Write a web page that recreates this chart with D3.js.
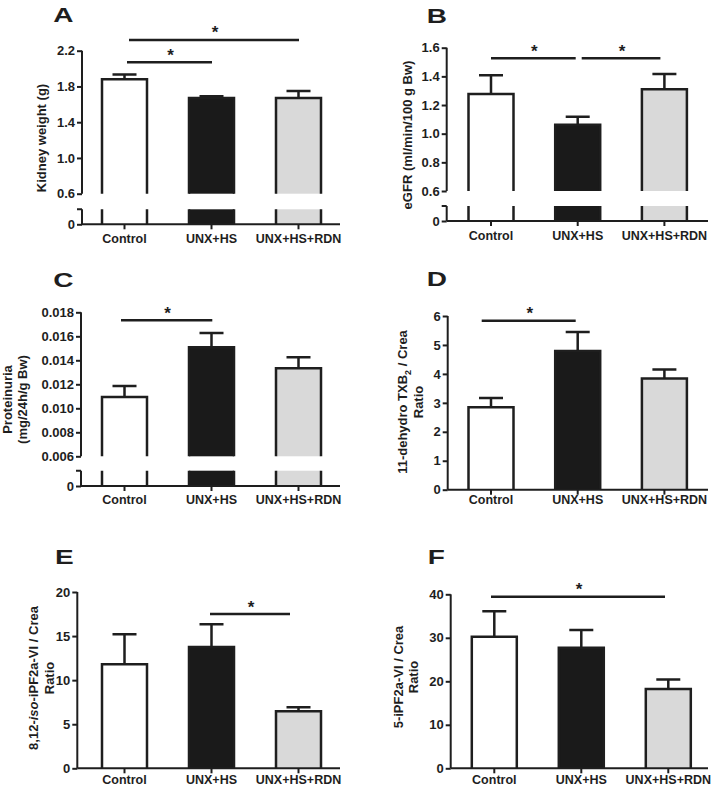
<!DOCTYPE html>
<html><head><meta charset="utf-8">
<script src="https://cdn.jsdelivr.net/npm/d3@7"></script>
<style>
body{margin:0;background:#fff}
text{font-family:"Liberation Sans",Arial,sans-serif;font-weight:bold;fill:#1e1e1e}
</style>
</head><body><svg id="c" width="711" height="787"></svg>
<script>
// ---------------- data ----------------
const categories = ["Control", "UNX+HS", "UNX+HS+RDN"];

const kidneyWeight = [1.88, 1.67, 1.67];
const kidneyWeightSem = [0.055, 0.02, 0.08];
const kidneyTicks = [0.6, 1.0, 1.4, 1.8, 2.2];
const kidneySig = [{from: 0, to: 1, y: 2.07}, {from: 0, to: 2, y: 2.32}];

const egfr = [1.277, 1.063, 1.31];
const egfrSem = [0.13, 0.056, 0.106];
const egfrTicks = [0.6, 0.8, 1.0, 1.2, 1.4, 1.6];
const egfrSig = [{from: 0, to: 1, y: 1.526}, {from: 1, to: 2, y: 1.526}];

const proteinuria = [0.01094, 0.01508, 0.01333];
const proteinuriaSem = [0.00092, 0.0012, 0.00092];
const proteinuriaTicks = [0.006, 0.008, 0.010, 0.012, 0.014, 0.016, 0.018];
const proteinuriaSig = [{from: 0, to: 1, y: 0.01733}];

const txb2 = [2.85, 4.79, 3.84];
const txb2Sem = [0.32, 0.66, 0.31];
const txb2Ticks = [0, 1, 2, 3, 4, 5, 6];
const txb2Sig = [{from: 0, to: 1, y: 5.84}];

const isoIPF = [11.8, 13.76, 6.47];
const isoIPFSem = [3.4, 2.57, 0.45];
const isoIPFTicks = [0, 5, 10, 15, 20];
const isoIPFSig = [{from: 1, to: 2, y: 17.5}];

const ipf5 = [30.27, 27.74, 18.24];
const ipf5Sem = [5.83, 4.06, 2.16];
const ipf5Ticks = [0, 10, 20, 30, 40];
const ipf5Sig = [{from: 0, to: 2, y: 39.45}];

// ---------------- layout / style ----------------
const fills = ["#ffffff", "#1a1a1a", "#d9d9d9"];
const ink = "#1e1e1e";

const panels = [
  {letter: "A", means: kidneyWeight, sem: kidneyWeightSem, ticks: kidneyTicks, fmt: d3.format(".1f"), sig: kidneySig,
   title: [["Kidney weight (g)"]], broken: true,
   L: {axisX: 82, xEnd: 340, c0: 124.5, step: 87, yLo: 193.7, yHi: 50.7, y0: 224.3, segTop: 209.3, labelDy: 19,
       lx: 53.3, ly: 21.7, tbx: 46, tcy: 138, gap: 15.5, sigDx: [[2.5, 0.5], [4.5, 0.5]]}},
  {letter: "B", means: egfr, sem: egfrSem, ticks: egfrTicks, fmt: d3.format(".1f"), sig: egfrSig,
   title: [["eGFR (ml/min/100 g Bw)"]], broken: true,
   L: {axisX: 446.7, xEnd: 708, c0: 491, step: 86.7, yLo: 191, yHi: 47.7, y0: 221, segTop: 206, labelDy: 19,
       lx: 426.7, ly: 22.7, tbx: 412, tcy: 135, gap: 15.5, sigDx: [[0, -2], [4, -4]]}},
  {letter: "C", means: proteinuria, sem: proteinuriaSem, ticks: proteinuriaTicks, fmt: d3.format(".3f"), sig: proteinuriaSig,
   title: [["Proteinuria"], ["(mg/24h/g Bw)"]], broken: true,
   L: {axisX: 81, xEnd: 340, c0: 124.5, step: 87, yLo: 456.3, yHi: 312.3, y0: 486, segTop: 470.7, labelDy: 18,
       lx: 53.3, ly: 286.7, tbx: 11.5, tcy: 399.5, gap: 15.5, sigDx: [[-3.5, 0.8]]}},
  {letter: "D", means: txb2, sem: txb2Sem, ticks: txb2Ticks, fmt: d3.format("d"), sig: txb2Sig,
   title: [["11-dehydro TXB", {sub: "2"}, " / Crea"], ["Ratio"]], broken: false,
   L: {axisX: 447.7, xEnd: 708, c0: 491, step: 86.7, yLo: 489.7, yHi: 316, y0: 489.7, labelDy: 15,
       lx: 426.7, ly: 285.7, tbx: 407, tcy: 402, gap: 15.5, sigDx: [[-9.3, -2]]}},
  {letter: "E", means: isoIPF, sem: isoIPFSem, ticks: isoIPFTicks, fmt: d3.format("d"), sig: isoIPFSig,
   title: [["8,12-", {it: "iso"}, "-iPF2a-VI / Crea"], ["Ratio"]], broken: false,
   L: {axisX: 77.3, xEnd: 340, c0: 124.5, step: 87, yLo: 768.3, yHi: 592, y0: 768.3, labelDy: 16,
       lx: 55, ly: 564, tbx: 38, tcy: 678, gap: 15.5, sigDx: [[-1.5, -8.5]]}},
  {letter: "F", means: ipf5, sem: ipf5Sem, ticks: ipf5Ticks, fmt: d3.format("d"), sig: ipf5Sig,
   title: [["5-iPF2a-VI / Crea"], ["Ratio"]], broken: false,
   L: {axisX: 450.7, xEnd: 708, c0: 494.3, step: 87, yLo: 768.3, yHi: 594.3, y0: 768.3, labelDy: 16,
       lx: 427.7, ly: 564, tbx: 402.5, tcy: 677, gap: 15.5, sigDx: [[-3.3, -3.3]]}}
];

const svg = d3.select("#c");
const barW = 45, capW = 24, tickLen = 5;
const styleText = sel => sel.attr("fill", ink)
  .style("font-family", '"Liberation Sans",Arial,sans-serif').style("font-weight", "bold");

panels.forEach(p => {
  const L = p.L;
  const g = svg.append("g");
  const x = d3.scaleBand().domain(categories)
    .range([L.c0 - L.step / 2, L.c0 + L.step * 2.5]).padding(0);
  const cx = c => x(c) + x.bandwidth() / 2;
  const y = d3.scaleLinear().domain([p.ticks[0], p.ticks[p.ticks.length - 1]]).range([L.yLo, L.yHi]);

  // bars
  categories.forEach((c, i) => {
    const left = cx(c) - barW / 2, right = cx(c) + barW / 2, top = y(p.means[i]);
    const bottom = L.yLo;
    g.append("rect").attr("x", left).attr("y", top).attr("width", barW).attr("height", bottom - top)
      .attr("fill", fills[i]);
    g.append("path").attr("d", `M${left},${bottom}V${top}H${right}V${bottom}`)
      .attr("fill", "none").attr("stroke", ink).attr("stroke-width", 2.5);
    if (p.broken) {
      g.append("rect").attr("x", left).attr("y", L.segTop).attr("width", barW).attr("height", L.y0 - L.segTop)
        .attr("fill", fills[i]);
      g.append("path").attr("d", `M${left},${L.segTop}V${L.y0}M${right},${L.segTop}V${L.y0}`)
        .attr("fill", "none").attr("stroke", ink).attr("stroke-width", 2.5);
    }
    // error bar (upper)
    const ye = y(p.means[i] + p.sem[i]);
    g.append("path").attr("d", `M${cx(c)},${top}V${ye}M${cx(c) - capW / 2},${ye}H${cx(c) + capW / 2}`)
      .attr("fill", "none").attr("stroke", ink).attr("stroke-width", 2.5);
  });

  // y axis (upper / main)
  const yAxis = d3.axisLeft(y).tickValues(p.ticks).tickFormat(p.fmt).tickSize(tickLen).tickPadding(2);
  const ya = g.append("g").attr("transform", `translate(${L.axisX},0)`).call(yAxis);
  ya.select(".domain").attr("d", p.broken ? `M0,${L.yLo}V${L.yHi}` : `M0,${L.y0}V${L.yHi}`);
  ya.selectAll("path,line").attr("stroke", ink).attr("stroke-width", 2);
  ya.selectAll("text").attr("font-size", 13).call(styleText);

  // lower segment of broken axis
  if (p.broken) {
    const y2 = d3.scaleLinear().domain([0, 1]).range([L.y0, L.segTop]);
    const a2 = g.append("g").attr("transform", `translate(${L.axisX},0)`)
      .call(d3.axisLeft(y2).tickValues([0]).tickFormat(d3.format("d")).tickSize(tickLen).tickPadding(2));
    a2.select(".domain").attr("d", `M0,${L.y0}V${L.segTop}M-${tickLen},${L.segTop}H0`);
    a2.selectAll("path,line").attr("stroke", ink).attr("stroke-width", 2);
    a2.selectAll("text").attr("font-size", 13).call(styleText);
  }

  // x axis
  const xa = g.append("g").attr("transform", `translate(0,${L.y0})`)
    .call(d3.axisBottom(x).tickSize(tickLen).tickPadding(L.labelDy - tickLen - 9.3));
  xa.select(".domain").attr("d", `M${L.axisX},0H${L.xEnd}`);
  xa.selectAll("path,line").attr("stroke", ink).attr("stroke-width", 2);
  xa.selectAll("text").attr("font-size", 12.5).call(styleText);

  // significance lines
  p.sig.forEach((s, k) => {
    const dx = L.sigDx[k];
    const x1 = cx(categories[s.from]) + dx[0], x2 = cx(categories[s.to]) + dx[1];
    const yy = y(s.y);
    g.append("line").attr("x1", x1).attr("x2", x2).attr("y1", yy).attr("y2", yy)
      .attr("stroke", ink).attr("stroke-width", 2.5);
    g.append("text").attr("x", (x1 + x2) / 2 + 1).attr("y", yy - 1.5)
      .attr("text-anchor", "middle").attr("font-size", 17).text("*");
  });

  // y title
  const tg = g.append("g").attr("transform", `translate(${L.tbx},${L.tcy}) rotate(-90)`);
  p.title.forEach((line, li) => {
    const t = tg.append("text").attr("x", 0).attr("y", li * L.gap).attr("text-anchor", "middle").attr("font-size", 13);
    let pendingDy = 0;
    line.forEach(part => {
      let ts;
      if (typeof part === "string") ts = t.append("tspan").text(part);
      else if (part.it) ts = t.append("tspan").attr("font-style", "italic").text(part.it);
      else if (part.sub) {
        ts = t.append("tspan").attr("font-size", 9).attr("dy", 3.5).text(part.sub);
        pendingDy = -3.5;
        return;
      }
      if (pendingDy) { ts.attr("dy", pendingDy); pendingDy = 0; }
    });
  });

  // panel letter
  svg.append("text").attr("transform", `translate(${L.lx},${L.ly}) scale(1.4,1)`)
    .attr("font-size", 20).attr("fill", "#111").text(p.letter);
});
</script>
</body></html>
